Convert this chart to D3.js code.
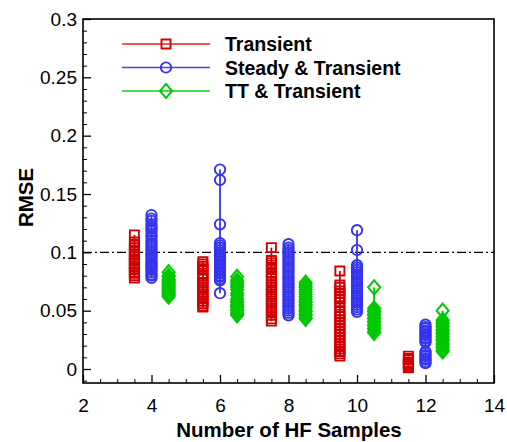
<!DOCTYPE html>
<html>
<head>
<meta charset="utf-8">
<script src="https://cdn.jsdelivr.net/npm/d3@7"></script>
<style>
  body { margin: 0; background: #fff; }
  text { font-family: "Liberation Sans", Arial, sans-serif; }
</style>
</head>
<body>
<div id="chart"></div>
<script>
// series names and colours
const seriesNames = ["Transient", "Steady & Transient", "TT & Transient"];
const seriesColors = ["#d20000", "#3434f0", "#00c800"];
const legendLineColors = ["#f01c1c", "#4040f8", "#10cc10"];

// x position of each cluster
const transientX = [3.5, 5.5, 7.5, 9.5, 11.5];
const steadyX = [4, 6, 8, 10, 12];
const ttX = [4.5, 6.5, 8.5, 10.5, 12.5];

// RMSE values of each cluster
const transientVals = [
  [0.115, 0.109, 0.106, 0.104, 0.102, 0.1, 0.098, 0.096, 0.094, 0.093, 0.091, 0.09, 0.088, 0.086, 0.085, 0.083, 0.082, 0.08, 0.078],
  [0.092, 0.09, 0.088, 0.086, 0.085, 0.082, 0.08, 0.078, 0.077, 0.074, 0.072, 0.07, 0.068, 0.066, 0.064, 0.062, 0.06, 0.058, 0.056, 0.054, 0.053],
  [0.104, 0.093, 0.091, 0.089, 0.087, 0.085, 0.082, 0.08, 0.078, 0.075, 0.072, 0.07, 0.068, 0.066, 0.064, 0.062, 0.06, 0.058, 0.056, 0.054, 0.052, 0.05, 0.048, 0.046, 0.043, 0.041],
  [0.084, 0.072, 0.07, 0.067, 0.065, 0.062, 0.06, 0.057, 0.053, 0.05, 0.047, 0.045, 0.042, 0.04, 0.037, 0.035, 0.032, 0.03, 0.027, 0.025, 0.022, 0.02, 0.017, 0.015, 0.013, 0.011],
  [0.011, 0.009, 0.008, 0.006, 0.005, 0.004, 0.003, 0.002, 0.001]
];
const steadyVals = [
  [0.132, 0.129, 0.127, 0.124, 0.122, 0.12, 0.118, 0.115, 0.113, 0.11, 0.108, 0.106, 0.104, 0.102, 0.1, 0.098, 0.097, 0.095, 0.093, 0.091, 0.09, 0.088, 0.087, 0.085, 0.083, 0.081, 0.08, 0.078],
  [0.171, 0.162, 0.124, 0.108, 0.106, 0.104, 0.102, 0.1, 0.098, 0.097, 0.095, 0.094, 0.092, 0.091, 0.089, 0.088, 0.086, 0.085, 0.083, 0.082, 0.08, 0.079, 0.077, 0.076, 0.065],
  [0.107, 0.104, 0.102, 0.1, 0.098, 0.096, 0.094, 0.092, 0.09, 0.088, 0.086, 0.084, 0.082, 0.08, 0.078, 0.076, 0.074, 0.072, 0.07, 0.068, 0.066, 0.064, 0.062, 0.06, 0.058, 0.056, 0.054, 0.052, 0.05, 0.048, 0.046],
  [0.119, 0.102, 0.089, 0.087, 0.085, 0.083, 0.081, 0.079, 0.077, 0.075, 0.073, 0.071, 0.069, 0.067, 0.065, 0.063, 0.061, 0.059, 0.057, 0.055, 0.053, 0.051, 0.049],
  [0.038, 0.036, 0.035, 0.033, 0.032, 0.03, 0.029, 0.027, 0.026, 0.024, 0.023, 0.015, 0.014, 0.012, 0.011, 0.009, 0.008, 0.006, 0.005]
];
const ttVals = [
  [0.083, 0.08, 0.079, 0.077, 0.076, 0.075, 0.074, 0.073, 0.072, 0.071, 0.07, 0.069, 0.068, 0.067, 0.066, 0.065, 0.064, 0.063, 0.062],
  [0.079, 0.076, 0.074, 0.072, 0.07, 0.068, 0.065, 0.063, 0.06, 0.058, 0.057, 0.055, 0.054, 0.053, 0.051, 0.05, 0.048, 0.047, 0.046],
  [0.074, 0.072, 0.07, 0.068, 0.066, 0.064, 0.062, 0.06, 0.058, 0.057, 0.055, 0.054, 0.052, 0.05, 0.049, 0.047, 0.046, 0.044, 0.043],
  [0.07, 0.052, 0.05, 0.049, 0.047, 0.046, 0.044, 0.043, 0.041, 0.04, 0.038, 0.037, 0.035, 0.034, 0.032, 0.031],
  [0.05, 0.042, 0.04, 0.039, 0.037, 0.036, 0.034, 0.033, 0.031, 0.03, 0.028, 0.027, 0.025, 0.024, 0.022, 0.021, 0.019, 0.018, 0.016, 0.015]
];

const threshold = 0.1;
const xTicks = [2, 4, 6, 8, 10, 12, 14];
const yTicks = [0, 0.05, 0.1, 0.15, 0.2, 0.25, 0.3];

const width = 507, height = 442;
const margin = { left: 83, right: 13, top: 19, bottom: 59 };

const svg = d3.select("#chart").append("svg")
  .attr("width", width)
  .attr("height", height);

const x = d3.scaleLinear().domain([2, 14]).range([margin.left, width - margin.right]);
const y = d3.scaleLinear().domain([-0.012, 0.3]).range([height - margin.bottom, margin.top]);

// frame
svg.append("rect")
  .attr("x", x(2)).attr("y", y(0.3))
  .attr("width", x(14) - x(2)).attr("height", y(-0.012) - y(0.3))
  .attr("fill", "none").attr("stroke", "#000").attr("stroke-width", 1.6);

// x axis, ticks pointing inward
const xAxis = d3.axisBottom(x).tickValues(xTicks).tickSize(-8).tickPadding(14).tickFormat(d3.format("d"));
const gx = svg.append("g").attr("transform", `translate(0,${y(-0.012)})`).call(xAxis);
gx.select(".domain").remove();
gx.selectAll("text").attr("font-size", 19).attr("dy", "0.78em").attr("fill", "#000");
gx.selectAll("line").attr("stroke-width", 1.3);
const gxm = svg.append("g").attr("transform", `translate(0,${y(-0.012)})`)
  .call(d3.axisBottom(x).tickValues(d3.range(2, 14.01, 0.5).filter(v => v % 2 !== 0)).tickSize(-4).tickFormat(""));
gxm.select(".domain").remove();

// y axis, ticks pointing inward
const yAxis = d3.axisLeft(y).tickValues(yTicks).tickSize(-8).tickPadding(6).tickFormat(d => d === 0 ? "0" : String(d));
const gy = svg.append("g").attr("transform", `translate(${x(2)},0)`).call(yAxis);
gy.select(".domain").remove();
gy.selectAll("text").attr("font-size", 19).attr("fill", "#000");
gy.selectAll("line").attr("stroke-width", 1.3);
const minorY = d3.range(-10, 301, 10).map(v => v / 1000).filter(v => Math.round(v * 1000) % 50 !== 0);
const gym = svg.append("g").attr("transform", `translate(${x(2)},0)`)
  .call(d3.axisLeft(y).tickValues(minorY).tickSize(-4).tickFormat(""));
gym.select(".domain").remove();

// axis titles
svg.append("text")
  .attr("x", 289).attr("y", 437)
  .attr("text-anchor", "middle").attr("font-size", 20.5).attr("font-weight", "bold")
  .text("Number of HF Samples");
svg.append("text")
  .attr("transform", `translate(33,${y(0.147)}) rotate(-90)`)
  .attr("text-anchor", "middle").attr("font-size", 20.5).attr("font-weight", "bold")
  .text("RMSE");

// threshold line
svg.append("line")
  .attr("x1", x(2)).attr("x2", x(14))
  .attr("y1", y(threshold)).attr("y2", y(threshold))
  .attr("stroke", "#000").attr("stroke-width", 1.4)
  .attr("stroke-dasharray", "9,3,2,3");

// marker shapes
const shapes = [d3.symbolSquare, d3.symbolCircle, d3.symbolDiamond];
const sizes = [81, 84, 64];
function marker(g, i, cx, cy) {
  g.append("path")
    .attr("d", d3.symbol().type(shapes[i]).size(sizes[i])())
    .attr("transform", i === 2
      ? `translate(${cx},${cy}) scale(1.4,0.95)`
      : `translate(${cx},${cy})`)
    .attr("fill", "none")
    .attr("stroke", seriesColors[i])
    .attr("stroke-width", i === 2 ? 1.6 : 1.9);
}

const allSeries = [
  { xs: transientX, vals: transientVals },
  { xs: steadyX, vals: steadyVals },
  { xs: ttX, vals: ttVals }
];

allSeries.forEach((s, i) => {
  const g = svg.append("g");
  s.xs.forEach((xv, k) => {
    const vals = s.vals[k];
    g.append("line")
      .attr("x1", x(xv)).attr("x2", x(xv))
      .attr("y1", y(d3.max(vals))).attr("y2", y(d3.min(vals)))
      .attr("stroke", seriesColors[i]).attr("stroke-width", 1.8);
    vals.forEach(v => marker(g, i, x(xv), y(v)));
  });
});

// legend
const legend = svg.append("g");
seriesNames.forEach((name, i) => {
  const ly = 44 + i * 23.5;
  legend.append("line")
    .attr("x1", 122).attr("x2", 210).attr("y1", ly).attr("y2", ly)
    .attr("stroke", legendLineColors[i]).attr("stroke-width", 1.6);
  marker(legend, i, 166, ly);
  legend.append("text")
    .attr("x", 225).attr("y", ly).attr("dy", "0.36em")
    .attr("font-size", 19.5).attr("font-weight", "bold")
    .text(name);
});
</script>
</body>
</html>
